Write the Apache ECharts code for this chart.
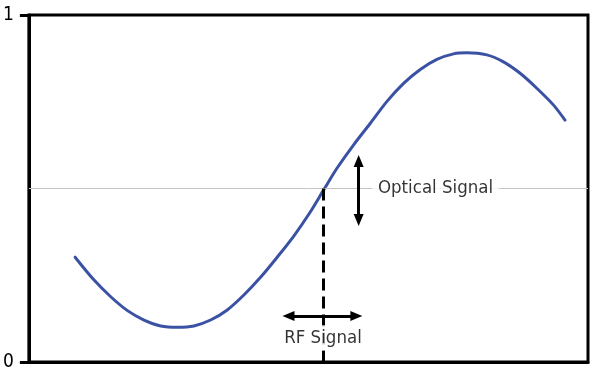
<!DOCTYPE html>
<html><head><meta charset="utf-8">
<script src="https://cdn.jsdelivr.net/npm/echarts@6/dist/echarts.min.js"></script>
<style>html,body{margin:0;padding:0;background:#fff}#c{width:599px;height:378px}</style>
</head><body><div id="c"></div>
<script>
// Transfer curve (x: 0..100 across the frame, y: 0..1)
const curveX = [8.27, 11.66, 14.64, 17.63, 20.59, 23.57, 26.55, 29.52, 32.5, 35.48, 38.45, 41.43, 44.41, 47.38, 50.36, 52.73, 55.13, 58.09, 61.07, 64.05, 67.02, 70.0, 72.98, 75.95, 78.34, 81.91, 84.88, 87.86, 90.84, 93.8, 95.89];
const curveY = [0.302, 0.236, 0.188, 0.148, 0.121, 0.104, 0.100, 0.104, 0.121, 0.150, 0.193, 0.244, 0.302, 0.363, 0.433, 0.496, 0.559, 0.626, 0.688, 0.751, 0.803, 0.843, 0.872, 0.888, 0.891, 0.885, 0.865, 0.832, 0.789, 0.741, 0.697];
const yTicks = [0, 1];
const biasLevel = 0.5;
const biasX = 52.6;
// annotation anchors (data units)
const rfArrow = { y: 0.1326, x0: 46.43, x1: 58.57 };
const opArrow = { x: 58.98, y0: 0.579, y1: 0.409 };
const rfLabel = { x: 52.6, y: 0.07, text: 'RF Signal' };
const opLabel = { x: 72.73, y: 0.5, text: 'Optical Signal' };

const FONT = '"DejaVu Sans Condensed", "Liberation Sans Narrow", sans-serif';
const chart = echarts.init(document.getElementById('c'), null, { renderer: 'canvas' });
chart.setOption({
  animation: false,
  grid: { left: 28, right: 11, top: 15, bottom: 16, show: true, borderColor: '#000', borderWidth: 3, backgroundColor: 'transparent' },
  xAxis: { type: 'value', min: 0, max: 100, axisLine: { show: true, lineStyle: { color: '#000', width: 3 } }, axisTick: { show: false }, axisLabel: { show: false }, splitLine: { show: false } },
  yAxis: { type: 'value', min: 0, max: 1, interval: 1,
    axisLine: { show: true, lineStyle: { color: '#000', width: 3 } },
    axisTick: { show: true, length: 9, lineStyle: { color: '#000', width: 3 } },
    axisLabel: { show: true, margin: 15, color: '#000', fontFamily: FONT, fontSize: 19, formatter: v => yTicks.includes(v) ? String(v) : '' },
    splitLine: { show: false } },
  series: [
    { type: 'line', data: [], z: 1,
      markLine: { silent: true, symbol: ['none', 'none'], label: { show: false },
        lineStyle: { color: '#c4c4c4', width: 1, type: 'solid' },
        data: [{ yAxis: biasLevel }] } },
    { type: 'line', data: [], z: 3,
      markLine: { silent: true, label: { show: false }, symbol: ['triangle', 'triangle'], symbolSize: [10, 12],
        lineStyle: { color: '#000', width: 3, type: 'solid' },
        data: [
          [{ coord: [rfArrow.x0, rfArrow.y] }, { coord: [rfArrow.x1, rfArrow.y] }],
          [{ coord: [opArrow.x, opArrow.y0] }, { coord: [opArrow.x, opArrow.y1] }]
        ] } },
    { type: 'line', data: [], z: 3,
      markLine: { silent: true, label: { show: false }, symbol: ['none', 'none'],
        lineStyle: { color: '#000', width: 3, type: [12, 6] },
        data: [[{ coord: [biasX, biasLevel] }, { coord: [biasX, 0] }]] } },
    { type: 'line', z: 4, smooth: 0.3, showSymbol: false, symbol: 'none',
      data: curveX.map((x, i) => [x, curveY[i]]),
      lineStyle: { color: '#3b52a4', width: 3, cap: 'round' } },
    { type: 'scatter', data: [[opLabel.x, opLabel.y]], symbolSize: 0, z: 6,
      label: { show: true, position: 'inside', formatter: opLabel.text, color: '#000', fontFamily: FONT, fontSize: 18.5, backgroundColor: '#fff', padding: [2, 6] } },
    { type: 'scatter', data: [[rfLabel.x, rfLabel.y]], symbolSize: 0, z: 6,
      label: { show: true, position: 'inside', formatter: rfLabel.text, color: '#000', fontFamily: FONT, fontSize: 18.5, backgroundColor: '#fff', padding: [3, 2] } }
  ]
});
</script></body></html>
